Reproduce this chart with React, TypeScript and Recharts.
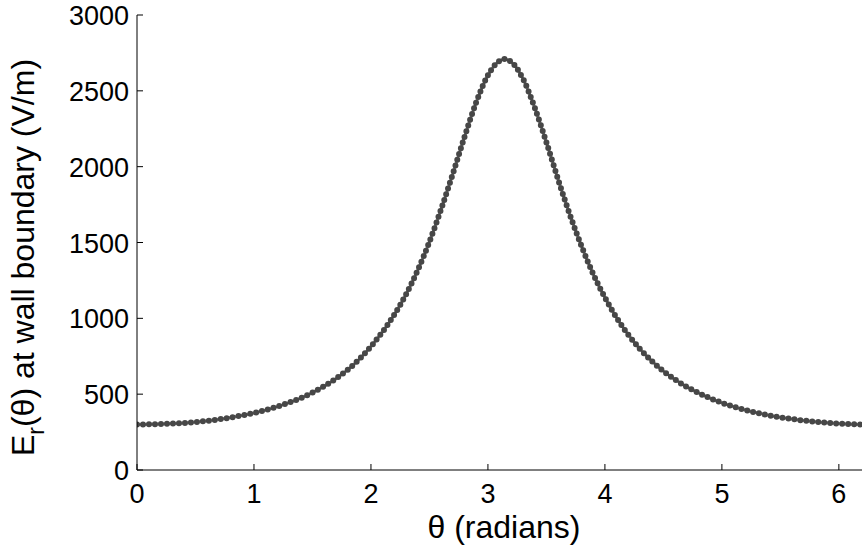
import { ComposedChart, Line, XAxis, YAxis } from 'recharts'

// θ (rad) samples and E_r(θ)
const thetaValues = [
  0, 0.1, 0.2, 0.3, 0.4, 0.5, 0.6, 0.7, 0.8, 0.9,
  1.0, 1.1, 1.2, 1.3, 1.4, 1.5, 1.6, 1.7, 1.8, 1.9,
  2.0, 2.1, 2.2, 2.3, 2.4, 2.5, 2.6, 2.7, 2.8, 2.9,
  3.0, 3.1, 3.1416, 3.2, 3.3, 3.4, 3.5, 3.6, 3.7, 3.8, 3.9,
  4.0, 4.1, 4.2, 4.3, 4.4, 4.5, 4.6, 4.7, 4.8, 4.9,
  5.0, 5.1, 5.2, 5.3, 5.4, 5.5, 5.6, 5.7, 5.8, 5.9,
  6.0, 6.1, 6.2, 6.2832,
]
const fieldValues = [
  300, 301, 303, 306, 310, 316, 324, 334, 346, 360,
  376, 395, 418, 444, 474, 510, 553, 602, 660, 730,
  815, 912, 1025, 1158, 1318, 1505, 1720, 1953, 2197, 2425,
  2603, 2698, 2710, 2690, 2579, 2389, 2160, 1915, 1684, 1476, 1292,
  1137, 1004, 892, 798, 719, 652, 596, 548, 508, 473,
  443, 418, 396, 377, 361, 347, 336, 326, 318, 311,
  306, 302, 300, 300,
]
const xTicks = [0, 1, 2, 3, 4, 5, 6]
const yTicks = [0, 500, 1000, 1500, 2000, 2500, 3000]

const data = thetaValues.map((t, i) => ({ theta: t, er: fieldValues[i] }))

const FONT = '"Liberation Sans", Arial, Helvetica, sans-serif'
const PLOT_TOP = 15
const PLOT_BOTTOM = 470
const PLOT_LEFT = 137

// MATLAB 스타일: 눈금은 안쪽으로
const BottomTick = (p: any) => (
  <g>
    <line x1={p.x} y1={PLOT_BOTTOM} x2={p.x} y2={PLOT_BOTTOM - 6} stroke="#000" strokeWidth={1} />
    <text x={p.x} y={503} textAnchor="middle" fontSize={27} fontFamily={FONT} fill="#000">
      {p.payload.value}
    </text>
  </g>
)

const TopTick = (p: any) => (
  <line x1={p.x} y1={PLOT_TOP} x2={p.x} y2={PLOT_TOP + 6} stroke="#000" strokeWidth={1} />
)

const LeftTick = (p: any) => (
  <g>
    <line x1={PLOT_LEFT} y1={p.y} x2={PLOT_LEFT + 6} y2={p.y} stroke="#000" strokeWidth={1} />
    <text x={129} y={p.y + 10} textAnchor="end" fontSize={27} fontFamily={FONT} fill="#000">
      {p.payload.value}
    </text>
  </g>
)

const XLabel = () => (
  <text x={504} y={538} textAnchor="middle" fontSize={32} fontFamily={FONT} fill="#000">
    θ (radians)
  </text>
)

const YLabel = () => (
  <text
    x={0}
    y={0}
    transform={`translate(34, ${(PLOT_TOP + PLOT_BOTTOM) / 2 + 15}) rotate(-90)`}
    textAnchor="middle"
    fontSize={32}
    fontFamily={FONT}
    fill="#000"
  >
    E<tspan fontSize={23} dy={10}>r</tspan>
    <tspan dy={-10}>(θ) at wall boundary (V/m)</tspan>
  </text>
)

export default function App() {
  return (
    <div style={{ position: 'absolute', left: 0, top: 0, width: 862, height: 550, overflow: 'hidden', background: '#fff' }}>
      <ComposedChart
        width={880}
        height={550}
        data={data}
        margin={{ top: PLOT_TOP, right: 8, bottom: 0, left: 0 }}
      >
        <XAxis
          dataKey="theta"
          type="number"
          domain={[0, 6.2832]}
          ticks={xTicks}
          allowDataOverflow
          height={80}
          tickLine={false}
          tick={<BottomTick />}
          stroke="#000"
          label={{ content: () => <XLabel /> }}
        />
        <XAxis
          xAxisId="top"
          dataKey="theta"
          type="number"
          orientation="top"
          domain={[0, 6.2832]}
          ticks={xTicks}
          height={0}
          tickLine={false}
          tick={<TopTick />}
          stroke="#000"
        />
        <YAxis
          type="number"
          domain={[0, 3000]}
          ticks={yTicks}
          width={PLOT_LEFT}
          tickLine={false}
          tick={<LeftTick />}
          stroke="#000"
          label={{ content: () => <YLabel /> }}
        />
        {/* 회색 연결선 */}
        <Line
          type="monotone"
          dataKey="er"
          stroke="#8a8a8a"
          strokeWidth={3}
          dot={false}
          isAnimationActive={false}
        />
        {/* 점 마커 느낌 */}
        <Line
          type="monotone"
          dataKey="er"
          stroke="#474747"
          strokeWidth={6}
          strokeLinecap="round"
          strokeDasharray="0 6"
          dot={false}
          isAnimationActive={false}
        />
      </ComposedChart>
    </div>
  )
}
